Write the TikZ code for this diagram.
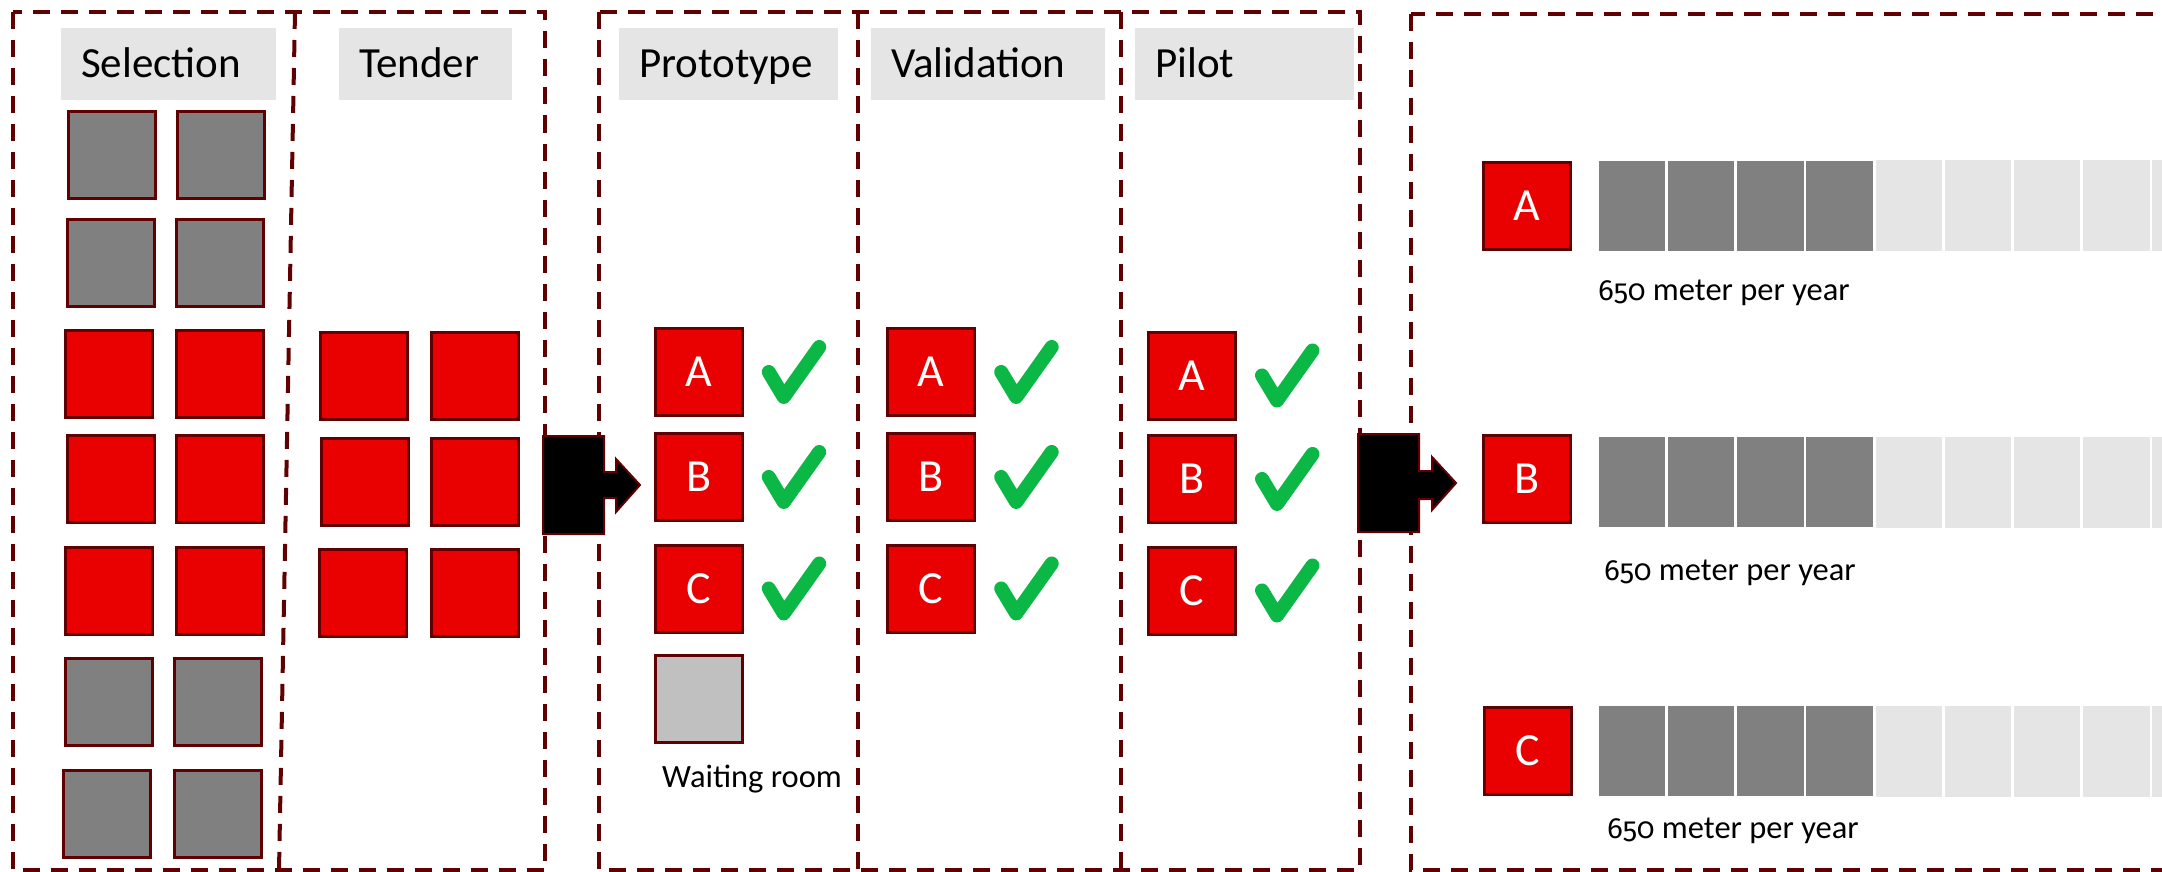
\documentclass[tikz,border=0pt]{standalone}
\usepackage{fontspec}
\setmainfont{Carlito}[Numbers=OldStyle]
\newfontfamily\osf{Fira Sans}[Numbers=OldStyle,Scale=0.9]
\definecolor{cDark}{HTML}{600000}
\definecolor{cRed}{HTML}{E90000}
\definecolor{cGray}{HTML}{808080}
\definecolor{cLight}{HTML}{E5E5E5}
\definecolor{cWait}{HTML}{C0C0C0}
\definecolor{cGreen}{HTML}{0BB845}
\begin{document}
\begin{tikzpicture}[x=1pt,y=-1pt,
  frame/.style={draw=cDark, line width=4pt, dash pattern=on 17pt off 11pt},
  sq/.style={draw=cDark, line width=3pt, minimum width=87pt, minimum height=87pt, inner sep=0pt, anchor=center},
  redsq/.style={sq, fill=cRed, text=white, font=\fontsize{46}{50}\selectfont},
  graysq/.style={sq, fill=cGray},
  waitsq/.style={sq, fill=cWait, line width=2.5pt},
  hdr/.style={fill=cLight, anchor=west, inner xsep=20pt, inner ysep=0pt, align=left, minimum height=72pt, text height=27.7pt, text depth=0pt, font=\fontsize{43}{50}\selectfont},
  small/.style={font=\fontsize{32.5}{36}\selectfont, inner sep=0pt, anchor=base west},
  darkcell/.style={fill=cGray, minimum width=66.5pt, minimum height=90pt, inner sep=0pt, anchor=west},
  lightcell/.style={fill=cLight, minimum width=66.5pt, minimum height=91pt, inner sep=0pt, anchor=west},
  blockarrow/.style={fill=black, draw=cDark, line width=2pt, line join=miter},
  check/.style={draw=cGreen, line width=14pt, line cap=round, line join=round}
]
\clip (0,0) rectangle (2162,872);
\fill[white] (0,0) rectangle (2162,872);

% dashed frames
\draw[frame] (12.5,12) rectangle (545,870);
\draw[frame] (295,12) -- (279,870);
\draw[frame] (599,12) rectangle (1360,870);
\draw[frame] (858,12) -- (858,870);
\draw[frame] (1121,12) -- (1121,870);
\draw[frame] (1411,14) rectangle (2200,870);

% headers
\node[hdr, text width=175pt] (hSel) at (61,64) {Selection};
\node[hdr, text width=133pt] (hTen) at (339,64) {Tender};
\node[hdr, text width=179pt] (hPro) at (619,64) {Prototype};
\node[hdr, text width=194pt] (hVal) at (871,64) {Validation};
\node[hdr, text width=179pt] (hPil) at (1135,64) {Pilot};

% selection squares
\node[graysq] (s11) at (111.5,155) {};
\node[graysq] (s12) at (221,155) {};
\node[graysq] (s21) at (111,262.5) {};
\node[graysq] (s22) at (220,262.5) {};
\node[redsq] (s31) at (109,374) {};
\node[redsq] (s32) at (220,374) {};
\node[redsq] (s41) at (110.5,479) {};
\node[redsq] (s42) at (220,479) {};
\node[redsq] (s51) at (108.5,590.5) {};
\node[redsq] (s52) at (220,590.5) {};
\node[graysq] (s61) at (109,702) {};
\node[graysq] (s62) at (218,702) {};
\node[graysq] (s71) at (106.5,813.5) {};
\node[graysq] (s72) at (218,813.5) {};

% tender squares
\node[redsq] (t11) at (364,376) {};
\node[redsq] (t12) at (475,376) {};
\node[redsq] (t21) at (365,482) {};
\node[redsq] (t22) at (474.5,482) {};
\node[redsq] (t31) at (363,593) {};
\node[redsq] (t32) at (474.5,593) {};

% prototype column
\node[redsq] (pA) at (698.75,372) {A};
\node[redsq] (pB) at (698.75,477) {B};
\node[redsq] (pC) at (698.75,588.5) {C};
\node[waitsq] (pW) at (698.75,699) {};
\node[small] (wait) at (662,787) {Waiting room};

% validation column
\node[redsq] (vA) at (931.2,372) {A};
\node[redsq] (vB) at (931.2,477) {B};
\node[redsq] (vC) at (931.2,588.5) {C};

% pilot column
\node[redsq] (lA) at (1192,375.5) {A};
\node[redsq] (lB) at (1192,479) {B};
\node[redsq] (lC) at (1192,590.5) {C};

% check marks
\foreach \n in {pA,pB,pC,vA,vB,vC,lA,lB,lC}{
  \draw[check, shift={(\n.center)}] (70,0) -- (85,25) -- (120.5,-25);
}

% right section
\node[redsq] (rA) at (1527,206) {A};
\node[redsq] (rB) at (1527,479) {B};
\node[redsq] (rC) at (1527.8,751) {C};

\foreach \r/\y in {A/205.5,B/482,C/751}{
  \foreach \i in {0,1,2,3}{
    \node[darkcell] (bar\r\i) at (1598.5+69.2*\i,\y) {};
  }
  \foreach \i in {4,5,6,7,8}{
    \node[lightcell] (bar\r\i) at (1598.5+69.2*\i,\y) {};
  }
}

\node[small] (tA) at (1598,300) {{\osf 650} meter per year};
\node[small] (tB) at (1604,580) {{\osf 650} meter per year};
\node[small] (tC) at (1607,838) {{\osf 650} meter per year};

% block arrows
\draw[blockarrow] (543,436) -- (604,436) -- (604,472) -- (616,472) -- (616,459) -- (640,485) -- (616,512) -- (616,498) -- (604,498) -- (604,534) -- (543,534) -- cycle;
\draw[blockarrow] (1358,434) -- (1419,434) -- (1419,471) -- (1432,471) -- (1432,457) -- (1456,483) -- (1432,510) -- (1432,499) -- (1419,499) -- (1419,532) -- (1358,532) -- cycle;
\end{tikzpicture}
\end{document}
